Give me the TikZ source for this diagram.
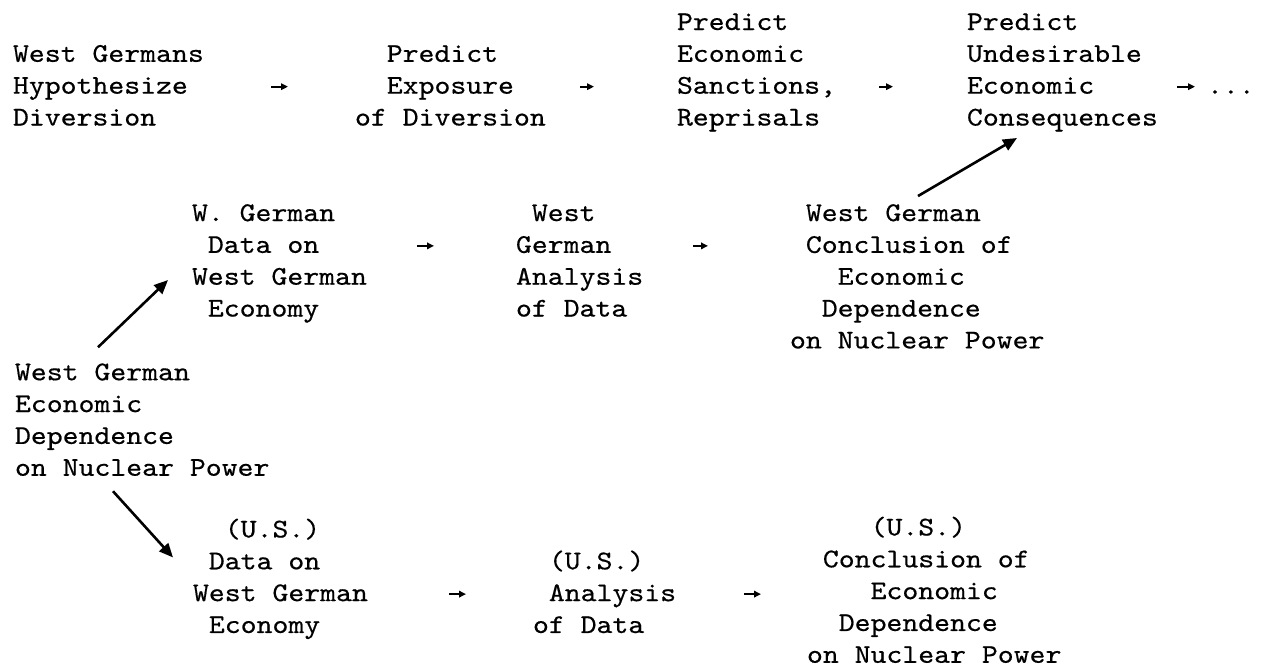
\documentclass[tikz,border=0pt]{standalone}
\usepackage{fontspec}
\newfontfamily\tw{lmmono10-regular.otf}[FakeStretch=1.12,FakeBold=0.5]
\usetikzlibrary{arrows.meta,calc}
\newlength\cw \setlength\cw{15.9pt}
\newcommand\ind[1]{\hspace*{#1\cw}}
\newcommand\st{\rule{0pt}{24pt}}
\begin{document}
\begin{tikzpicture}[x=1pt,y=1pt,
  txt/.style={anchor=north west, inner sep=0pt, outer sep=0pt, align=left,
    font=\tw\fontsize{27.04pt}{31.84pt}\selectfont},
  big/.style={line width=2.6pt, -{Triangle[length=14pt,width=12pt]}},
  tarr/.style={line width=1.8pt, -{Triangle[length=7pt,width=6.5pt]}}]
\useasboundingbox[fill=white] (0,0) rectangle (1264,-669);

% row 1
\node[txt] (A) at (13,-37.84) {\st West Germans\\Hypothesize\\Diversion};
\node[txt] (B) at (355,-37.84) {\st\ind{2}Predict\\\ind{2}Exposure\\of Diversion};
\node[txt] (C) at (677,-6) {\st Predict\\Economic\\Sanctions,\\Reprisals};
\node[txt] (D) at (967,-6) {\st Predict\\Undesirable\\Economic\\Consequences};
\node[txt] (dots) at (1207,-69.68) {\st...};

% row 2
\node[txt] (E) at (192,-197.04) {\st W. German\\\ind{1}Data on\\West German\\\ind{1}Economy};
\node[txt] (F) at (516,-197.04) {\st\ind{1}West\\German\\Analysis\\of Data};
\node[txt] (G) at (790,-197.04) {\st\ind{1}West German\\\ind{1}Conclusion of\\\ind{3}Economic\\\ind{2}Dependence\\on Nuclear Power};

% row 3
\node[txt] (K) at (15,-356.24) {\st West German\\Economic\\Dependence\\on Nuclear Power};

% row 4
\node[txt] (H) at (193,-513.44) {\st\ind{2}(U.S.)\\\ind{1}Data on\\West German\\\ind{1}Economy};
\node[txt] (I) at (533,-545.28) {\st\ind{1}(U.S.)\\\ind{1}Analysis\\of Data};
\node[txt] (J) at (807,-511.44) {\st\ind{4}(U.S.)\\\ind{1}Conclusion of\\\ind{4}Economic\\\ind{2}Dependence\\on Nuclear Power};

% typed arrows (connectors between neighbouring nodes)
\coordinate (ab1) at (271,-86.68); \coordinate (ab2) at (288,-86.68);
\coordinate (bc1) at (580,-86.68); \coordinate (bc2) at (594,-86.68);
\coordinate (cd1) at (879,-86.68); \coordinate (cd2) at (893,-86.68);
\coordinate (dd1) at (1177,-86.68); \coordinate (dd2) at (1195,-86.68);
\coordinate (ef1) at (417,-245.88); \coordinate (ef2) at (434,-245.88);
\coordinate (fg1) at (693,-245.88); \coordinate (fg2) at (708,-245.88);
\coordinate (hi1) at (449,-594.12); \coordinate (hi2) at (466,-594.12);
\coordinate (ij1) at (744,-594.12); \coordinate (ij2) at (761,-594.12);
\draw[tarr] (ab1) -- (ab2);
\draw[tarr] (bc1) -- (bc2);
\draw[tarr] (cd1) -- (cd2);
\draw[tarr] (dd1) -- (dd2);
\draw[tarr] (ef1) -- (ef2);
\draw[tarr] (fg1) -- (fg2);
\draw[tarr] (hi1) -- (hi2);
\draw[tarr] (ij1) -- (ij2);

% drawn arrows
\draw[big] ($(K.north west)+(83,9)$) -- ($(E.north west)+(-24,-83)$);
\draw[big] ($(K.north west)+(98,-135)$) -- ($(H.north west)+(-20,-44)$);
\draw[big] ($(G.north west)+(128,1)$) -- ($(D.north west)+(50,-132)$);
\end{tikzpicture}
\end{document}
